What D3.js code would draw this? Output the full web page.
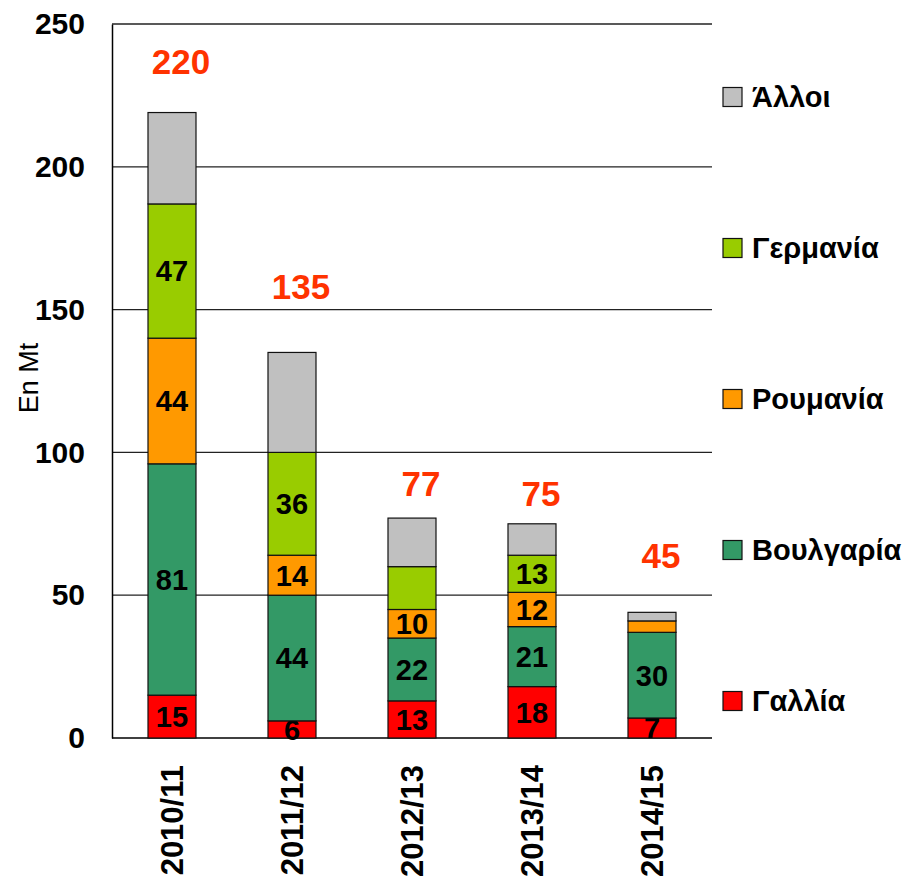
<!DOCTYPE html>
<html>
<head>
<meta charset="utf-8">
<script src="https://cdn.jsdelivr.net/npm/d3@7"></script>
<style>
  body { margin: 0; background: #fff; }
  svg text { font-family: "Liberation Sans", Arial, sans-serif; }
</style>
</head>
<body>
<div id="chart"></div>
<script>
// seasons on the x axis
let seasons = ["2010/11", "2011/12", "2012/13", "2013/14", "2014/15"];
// stacked series, bottom to top (Mt)
let gallia    = [15, 6, 13, 18, 7];
let voulgaria = [81, 44, 22, 21, 30];
let roumania  = [44, 14, 10, 12, 4];
let germania  = [47, 36, 15, 13, 0];
let alloi     = [32, 35, 17, 11, 3];
// totals written above each bar
let totals = [220, 135, 77, 75, 45];
let yTicks = [0, 50, 100, 150, 200, 250];

let seriesNames = ["Γαλλία", "Βουλγαρία", "Ρουμανία", "Γερμανία", "Άλλοι"];
let seriesValues = [gallia, voulgaria, roumania, germania, alloi];
let colors = ["#ff0000", "#339966", "#ff9900", "#99cc00", "#c0c0c0"];
// segments that carry no number in the original
let unlabeled = ["2012/13|Γερμανία", "2014/15|Ρουμανία", "2014/15|Γερμανία"];

var width = 909, height = 877;
var margin = {left: 112, right: 197, top: 24, bottom: 139};

var svg = d3.select("#chart").append("svg")
  .attr("width", width)
  .attr("height", height);

// build rows for d3.stack
var rows = seasons.map(function (s, i) {
  var r = {season: s};
  seriesNames.forEach(function (n, k) { r[n] = seriesValues[k][i]; });
  return r;
});
var stacked = d3.stack().keys(seriesNames)(rows);

var x = d3.scaleBand()
  .domain(seasons)
  .range([margin.left, width - margin.right])
  .paddingInner(0.6)
  .paddingOuter(0.3);

var y = d3.scaleLinear()
  .domain([0, 250])
  .range([height - margin.bottom, margin.top]);

// gridlines
svg.append("g")
  .selectAll("line")
  .data(yTicks.filter(function (d) { return d > 0; }))
  .enter().append("line")
  .attr("x1", margin.left)
  .attr("x2", width - margin.right)
  .attr("y1", function (d) { return y(d); })
  .attr("y2", function (d) { return y(d); })
  .attr("stroke", "#222")
  .attr("stroke-width", 1.3);

// y axis
var yAxis = svg.append("g")
  .attr("transform", "translate(" + margin.left + ",0)")
  .call(d3.axisLeft(y).tickValues(yTicks).tickSize(0).tickPadding(27));
yAxis.select(".domain").attr("stroke", "#000").attr("stroke-width", 1.5);
yAxis.selectAll("text")
  .attr("font-size", 30)
  .attr("font-weight", "bold")
  .attr("fill", "#000")
  .attr("font-family", "Liberation Sans, Arial, sans-serif");

// x axis baseline
svg.append("line")
  .attr("x1", margin.left)
  .attr("x2", width - margin.right)
  .attr("y1", y(0))
  .attr("y2", y(0))
  .attr("stroke", "#000")
  .attr("stroke-width", 1.5);

// bars
var layer = svg.append("g").selectAll("g")
  .data(stacked)
  .enter().append("g")
  .attr("fill", function (d, i) { return colors[i]; });

layer.selectAll("rect")
  .data(function (d) { return d.map(function (p) { p.key = d.key; return p; }); })
  .enter().append("rect")
  .filter(function (d) { return d[1] - d[0] > 0; })
  .attr("x", function (d) { return x(d.data.season); })
  .attr("width", x.bandwidth())
  .attr("y", function (d) { return y(d[1]); })
  .attr("height", function (d) { return y(d[0]) - y(d[1]); })
  .attr("stroke", "#111")
  .attr("stroke-width", 1.2);

// segment values
layer.selectAll("text")
  .data(function (d) { return d; })
  .enter().append("text")
  .filter(function (d) {
    var v = d[1] - d[0];
    return v > 0 && d.key !== "Άλλοι" && unlabeled.indexOf(d.data.season + "|" + d.key) < 0;
  })
  .attr("x", function (d) { return x(d.data.season) + x.bandwidth() / 2; })
  .attr("y", function (d) { return (y(d[0]) + y(d[1])) / 2; })
  .attr("dy", "0.36em")
  .attr("text-anchor", "middle")
  .attr("font-size", 29)
  .attr("font-weight", "bold")
  .attr("fill", "#000")
  .text(function (d) { return d[1] - d[0]; });

// totals above bars (lift in px, as placed in the original)
var lift = [51, 66, 35, 30, 57];
svg.append("g").selectAll("text")
  .data(totals)
  .enter().append("text")
  .attr("x", function (d, i) { return x(seasons[i]) + x.bandwidth() / 2 + 9; })
  .attr("y", function (d, i) {
    var top = d3.sum(seriesValues, function (s) { return s[i]; });
    return y(top) - lift[i];
  })
  .attr("dy", "0.36em")
  .attr("text-anchor", "middle")
  .attr("font-size", 35)
  .attr("font-weight", "bold")
  .attr("fill", "#ff3300")
  .text(function (d) { return d; });

// x labels, rotated
svg.append("g").selectAll("text")
  .data(seasons)
  .enter().append("text")
  .attr("transform", function (d) {
    return "translate(" + (x(d) + x.bandwidth() / 2 + 11) + "," + (y(0) + 27) + ") rotate(-90)";
  })
  .attr("text-anchor", "end")
  .attr("font-size", 31)
  .attr("font-weight", "bold")
  .attr("fill", "#000")
  .text(function (d) { return d; });

// y axis title
svg.append("text")
  .attr("transform", "translate(38,378) rotate(-90)")
  .attr("text-anchor", "middle")
  .attr("font-size", 27)
  .attr("fill", "#000")
  .text("En Mt");

// legend, top item is the top of the stack
var legendY = d3.scalePoint()
  .domain(seriesNames.slice().reverse())
  .range([97, 701]);
var legend = svg.append("g").selectAll("g")
  .data(seriesNames)
  .enter().append("g")
  .attr("transform", function (d) { return "translate(723," + legendY(d) + ")"; });
legend.append("rect")
  .attr("x", 0)
  .attr("y", -9.5)
  .attr("width", 19)
  .attr("height", 19)
  .attr("fill", function (d, i) { return colors[i]; })
  .attr("stroke", "#111")
  .attr("stroke-width", 1.2);
legend.append("text")
  .attr("x", 29)
  .attr("dy", "0.36em")
  .attr("font-size", 29)
  .attr("font-weight", "bold")
  .attr("fill", "#000")
  .text(function (d) { return d; });
</script>
</body>
</html>
